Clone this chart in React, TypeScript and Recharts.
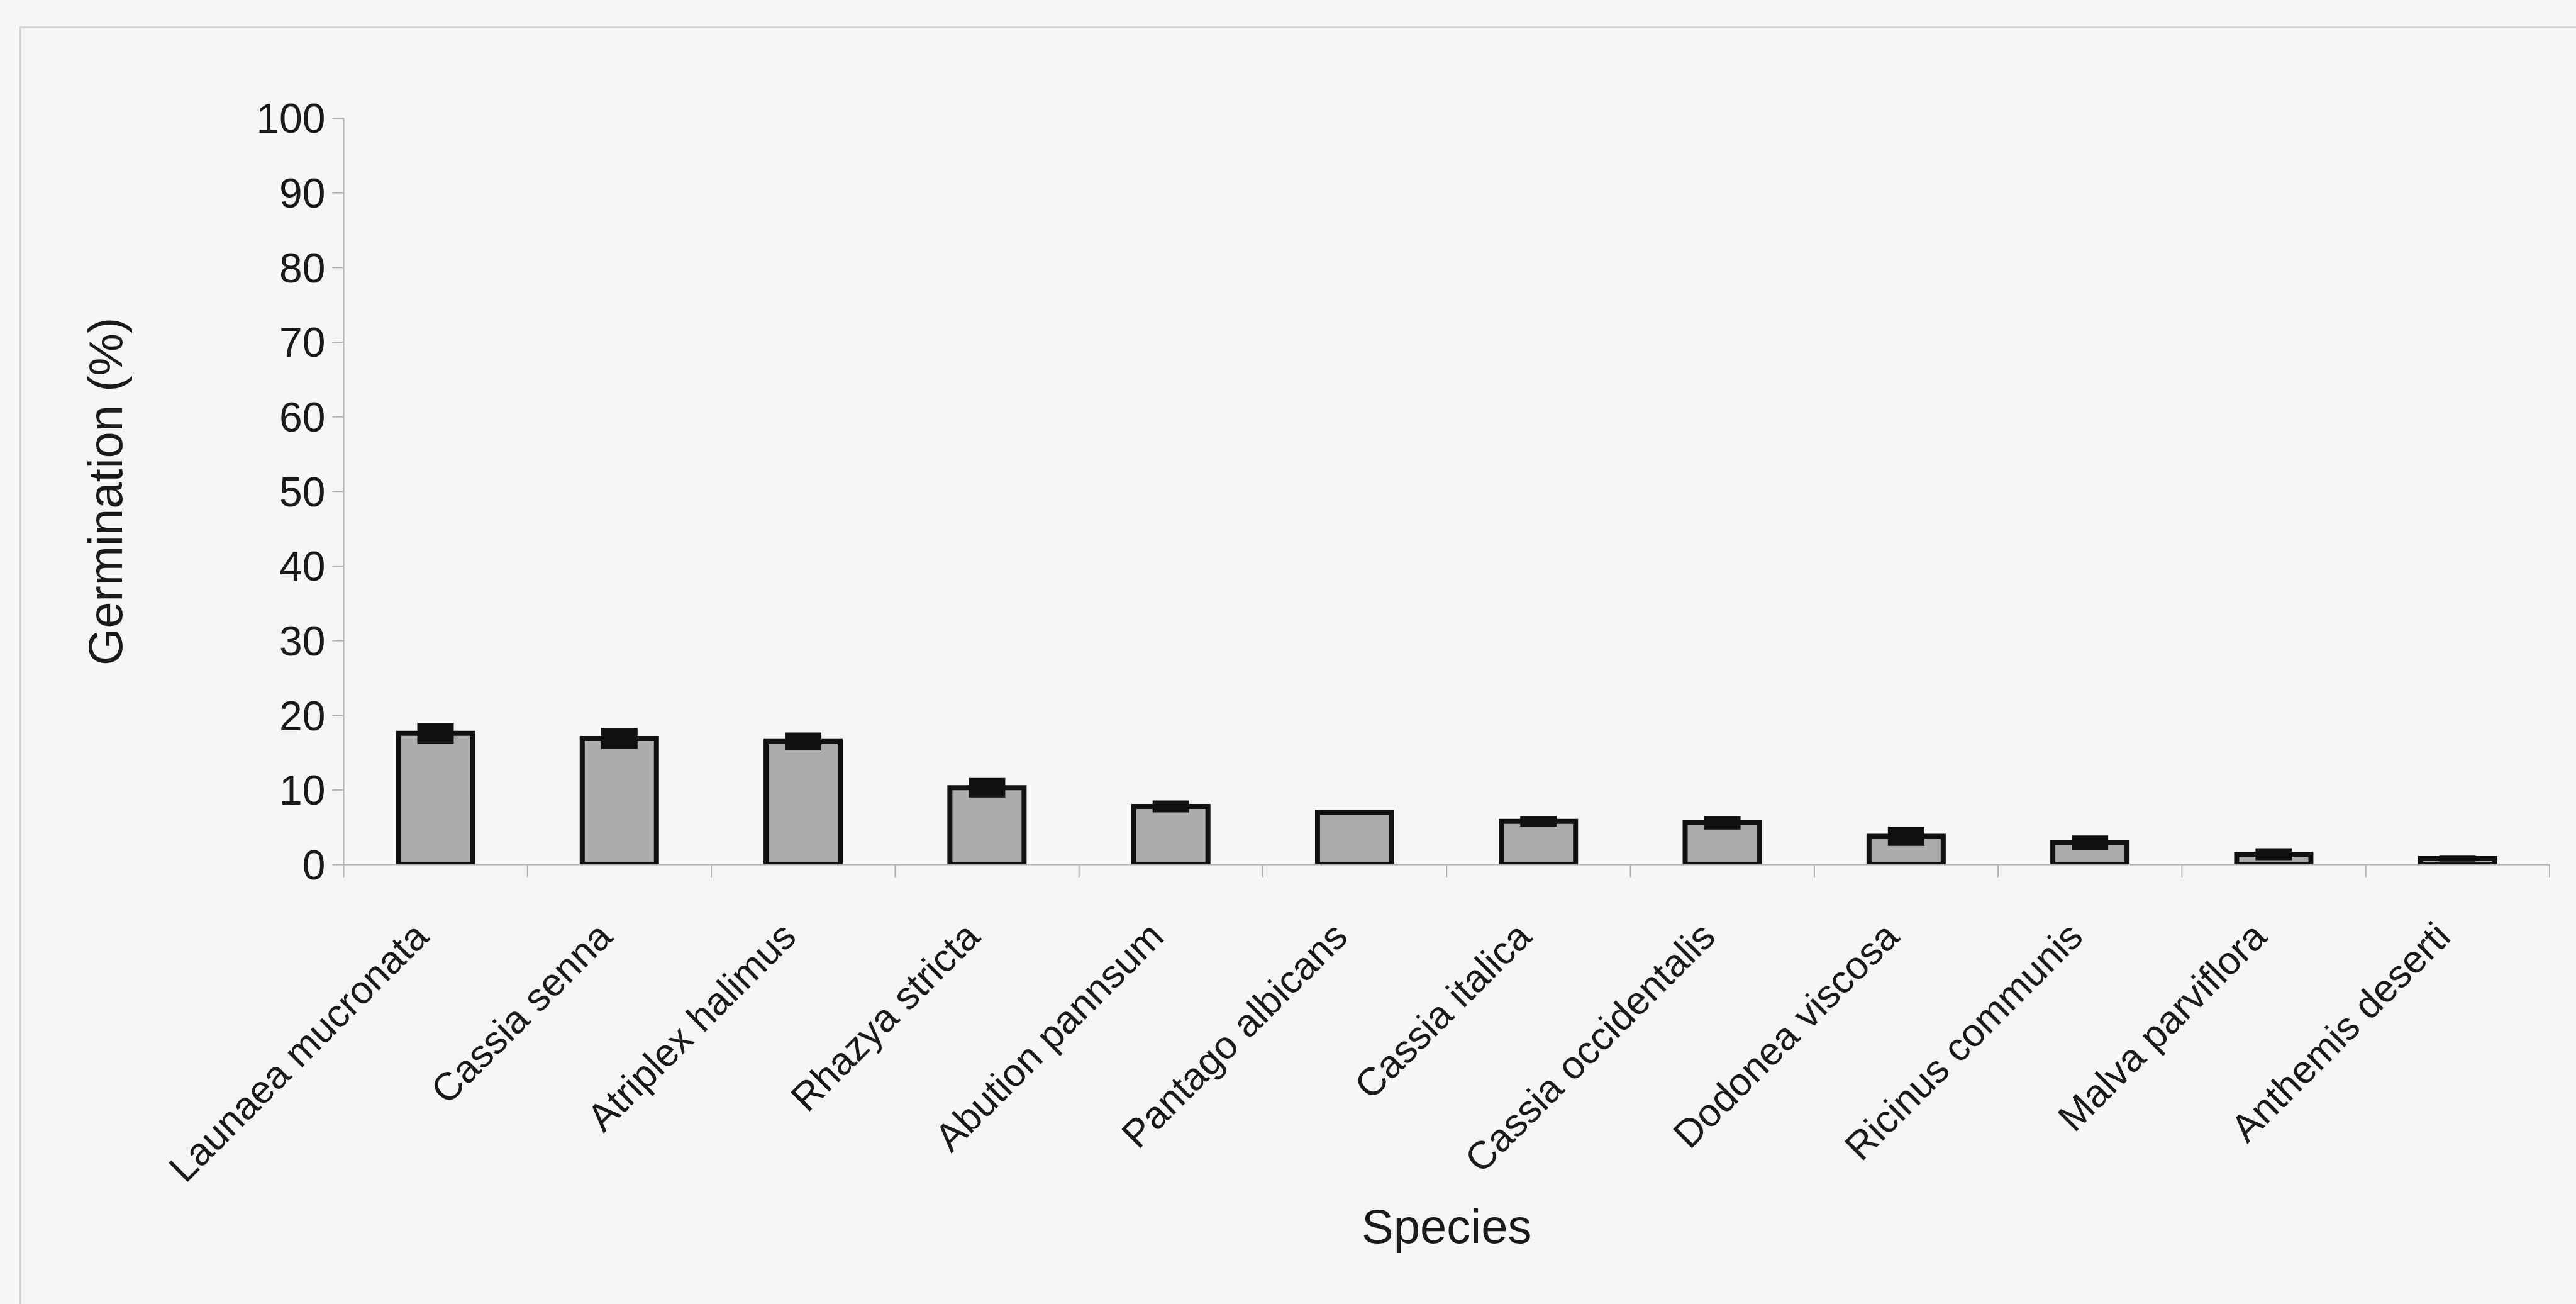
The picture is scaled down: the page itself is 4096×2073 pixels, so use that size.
import React from "react";
import { BarChart, Bar, XAxis, YAxis, ErrorBar, Label } from "recharts";

const categories = [
  "Launaea mucronata",
  "Cassia senna",
  "Atriplex halimus",
  "Rhazya stricta",
  "Abution pannsum",
  "Pantago albicans",
  "Cassia italica",
  "Cassia occidentalis",
  "Dodonea viscosa",
  "Ricinus communis",
  "Malva parviflora",
  "Anthemis deserti",
];
const germination = [17.6, 16.9, 16.5, 10.3, 7.8, 7.0, 5.8, 5.6, 3.8, 2.9, 1.4, 0.8];
const errors = [1.4, 1.4, 1.2, 1.3, 0.8, 0.3, 0.7, 0.9, 1.3, 1.0, 0.8, 0.4];
const yTicks = [0, 10, 20, 30, 40, 50, 60, 70, 80, 90, 100];

const data = categories.map((species, i) => ({
  species,
  germination: germination[i],
  err: errors[i],
}));

const FONT = '"Liberation Sans", Arial, Helvetica, sans-serif';
const TEXT = "#1a1a1a";
const AXIS = "#b0b0b0";

const CategoryTick = (props: any) => {
  const { x, y, payload, index, visibleTicksCount, width } = props;
  let half = payload && typeof payload.offset === "number" ? payload.offset : 0;
  if (!half && width && visibleTicksCount) half = width / visibleTicksCount / 2;
  const isLast = index === visibleTicksCount - 1;
  const ax = x - 8;
  const ay = y + 118;
  return (
    <g>
      <line x1={x - half} y1={y} x2={x - half} y2={y + 20} stroke={AXIS} strokeWidth={2} />
      {isLast && (
        <line x1={x + half} y1={y} x2={x + half} y2={y + 20} stroke={AXIS} strokeWidth={2} />
      )}
      <text
        x={ax}
        y={ay}
        transform={`rotate(-45, ${ax}, ${ay})`}
        textAnchor="end"
        fontFamily={FONT}
        fontSize={62}
        fill={TEXT}
      >
        {payload.value}
      </text>
    </g>
  );
};

const YTitle = (props: any) => {
  const vb = props.viewBox || { x: 0, y: 188, width: 546, height: 1186 };
  const cx = vb.x + 167;
  const cy = vb.y + vb.height / 2;
  return (
    <text
      x={cx}
      y={cy}
      transform={`rotate(-90, ${cx}, ${cy})`}
      textAnchor="middle"
      dominantBaseline="central"
      fontFamily={FONT}
      fontSize={76}
      fill={TEXT}
    >
      Germination (%)
    </text>
  );
};

const XTitle = (props: any) => {
  const vb = props.viewBox || { x: 546, y: 1374, width: 3508, height: 650 };
  return (
    <text
      x={vb.x + vb.width / 2}
      y={vb.y + 601}
      textAnchor="middle"
      fontFamily={FONT}
      fontSize={76}
      fill={TEXT}
    >
      Species
    </text>
  );
};

export default function App() {
  return (
    <div
      style={{
        position: "absolute",
        left: 0,
        top: 0,
        width: 4096,
        height: 2073,
        background: "#f6f6f6",
        overflow: "hidden",
      }}
    >
      <div
        style={{
          position: "absolute",
          left: 31,
          top: 42,
          width: 4200,
          height: 2200,
          borderLeft: "3px solid #d6d6d6",
          borderTop: "3px solid #d6d6d6",
        }}
      />
      <div style={{ position: "absolute", left: 0, top: 0 }}>
        <BarChart
          width={4096}
          height={2073}
          data={data}
          margin={{ top: 188, right: 42, left: 0, bottom: 48.5 }}
        >
          <XAxis
            dataKey="species"
            interval={0}
            height={650}
            tickSize={0}
            tickMargin={0}
            tickLine={false}
            tick={<CategoryTick />}
            axisLine={{ stroke: AXIS, strokeWidth: 2 }}
          >
            <Label content={<XTitle />} />
          </XAxis>
          <YAxis
            type="number"
            domain={[0, 100]}
            ticks={yTicks}
            width={546.5}
            tickSize={18}
            tickMargin={11}
            tickLine={{ stroke: AXIS, strokeWidth: 2 }}
            axisLine={{ stroke: AXIS, strokeWidth: 2 }}
            tick={{ fontFamily: FONT, fontSize: 66, fill: TEXT }}
            allowDataOverflow
          >
            <Label content={<YTitle />} />
          </YAxis>
          <Bar
            dataKey="germination"
            fill="#ababab"
            stroke="#111111"
            strokeWidth={8}
            barSize={118}
            isAnimationActive={false}
          >
            <ErrorBar
              dataKey="err"
              width={0}
              strokeWidth={58}
              stroke="#111111"
              direction="y"
              isAnimationActive={false}
            />
          </Bar>
        </BarChart>
      </div>
    </div>
  );
}
